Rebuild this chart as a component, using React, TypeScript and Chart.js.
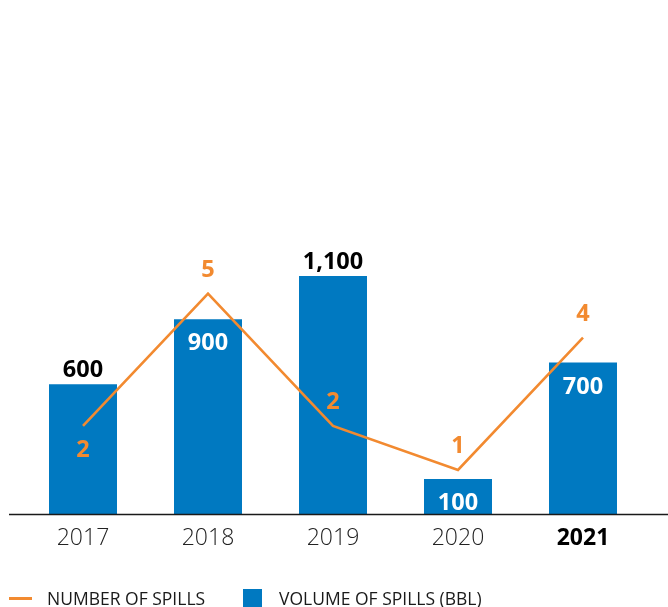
import React, { useEffect, useRef } from 'react';
import { Chart, registerables } from 'chart.js';

Chart.register(...registerables);

// ---- data ----
const categories = ['2017', '2018', '2019', '2020', '2021'];
const volumeBbl = [600, 900, 1100, 100, 700];
const spillCount = [2, 5, 2, 1, 4];
const highlightCategory = '2021';
const volumeLabelPlacement = ['outside', 'inside', 'outside', 'inside', 'inside'];
const countLabelPlacement = ['below', 'above', 'above', 'above', 'above'];
const seriesNames = { count: 'NUMBER OF SPILLS', volume: 'VOLUME OF SPILLS (BBL)' };

// ---- style ----
const BLUE = '#0079C1';
const ORANGE = '#F28A30';
const FONT = '"Open Sans", "Noto Sans", sans-serif';
const W = 668;
const H = 607;

const labelPlugin = {
  id: 'valueLabels',
  afterDatasetsDraw(chart: any) {
    const ctx = chart.ctx as CanvasRenderingContext2D;
    const area = chart.chartArea;
    ctx.save();
    ctx.strokeStyle = '#1a1a1a';
    ctx.lineWidth = 1.3;
    ctx.beginPath();
    ctx.moveTo(9, area.bottom + 0.5);
    ctx.lineTo(W, area.bottom + 0.5);
    ctx.stroke();

    ctx.font = `700 23.5px ${FONT}`;
    ctx.textAlign = 'center';
    ctx.textBaseline = 'alphabetic';
    const barMeta = chart.getDatasetMeta(0);
    barMeta.data.forEach((bar: any, i: number) => {
      const inside = volumeLabelPlacement[i] === 'inside';
      ctx.fillStyle = inside ? '#ffffff' : '#000000';
      const y = inside ? bar.y + 31 : bar.y - 7;
      ctx.fillText(volumeBbl[i].toLocaleString('en-US'), bar.x, y);
    });
    const lineMeta = chart.getDatasetMeta(1);
    ctx.fillStyle = ORANGE;
    lineMeta.data.forEach((pt: any, i: number) => {
      const below = countLabelPlacement[i] === 'below';
      const y = below ? pt.y + 31 : pt.y - 17;
      ctx.fillText(String(spillCount[i]), pt.x, y);
    });
    ctx.restore();
  },
};

export default function App() {
  const canvasRef = useRef<HTMLCanvasElement | null>(null);

  useEffect(() => {
    const canvas = canvasRef.current;
    if (!canvas) return;
    const chart = new Chart(canvas, {
      type: 'bar',
      data: {
        labels: categories,
        datasets: [
          {
            type: 'bar',
            label: seriesNames.volume,
            data: volumeBbl,
            backgroundColor: BLUE,
            yAxisID: 'y',
            order: 2,
            barPercentage: 0.544,
            categoryPercentage: 1,
            minBarLength: 35,
          } as any,
          {
            type: 'line',
            label: seriesNames.count,
            data: spillCount,
            borderColor: ORANGE,
            backgroundColor: ORANGE,
            borderWidth: 2.6,
            pointRadius: 0,
            tension: 0,
            yAxisID: 'y2',
            order: 1,
          } as any,
        ],
      },
      options: {
        responsive: false,
        maintainAspectRatio: false,
        animation: false,
        layout: { padding: { left: 20.5, right: 22.5, top: 38, bottom: 0 } },
        plugins: { legend: { display: false }, tooltip: { enabled: false } },
        scales: {
          x: {
            grid: { display: false, drawTicks: false },
            border: { display: false },
            ticks: {
              padding: 11,
              font: (c: any) =>
                categories[c.index] === highlightCategory
                  ? { family: FONT, size: 23, weight: 'bold' }
                  : { family: FONT, size: 23, weight: 300 },
              color: (c: any) => (categories[c.index] === highlightCategory ? '#000000' : '#222222'),
            },
            afterFit: (s: any) => {
              s.height = 93;
            },
          },
          y: { display: false, min: 0, max: 2200 },
          y2: { display: false, min: 0, max: 10.8, position: 'right' },
        },
      } as any,
      plugins: [labelPlugin],
    });
    return () => chart.destroy();
  }, []);

  const legendText: React.CSSProperties = {
    position: 'absolute',
    fontFamily: FONT,
    fontWeight: 400,
    fontSize: 17.5,
    lineHeight: '20px',
    color: '#1a1a1a',
    whiteSpace: 'nowrap',
  };

  return (
    <div style={{ position: 'absolute', left: 0, top: 0, width: W, height: H, background: '#ffffff' }}>
      <canvas ref={canvasRef} width={W} height={H} style={{ position: 'absolute', left: 0, top: 0, width: W, height: H }} />
      <div style={{ position: 'absolute', left: 9, top: 596.5, width: 23, height: 3, background: ORANGE }} />
      <span style={{ ...legendText, left: 47, top: 588 }}>{seriesNames.count}</span>
      <div style={{ position: 'absolute', left: 243, top: 589, width: 19, height: 18, background: BLUE }} />
      <span style={{ ...legendText, left: 279, top: 588 }}>{seriesNames.volume}</span>
    </div>
  );
}
